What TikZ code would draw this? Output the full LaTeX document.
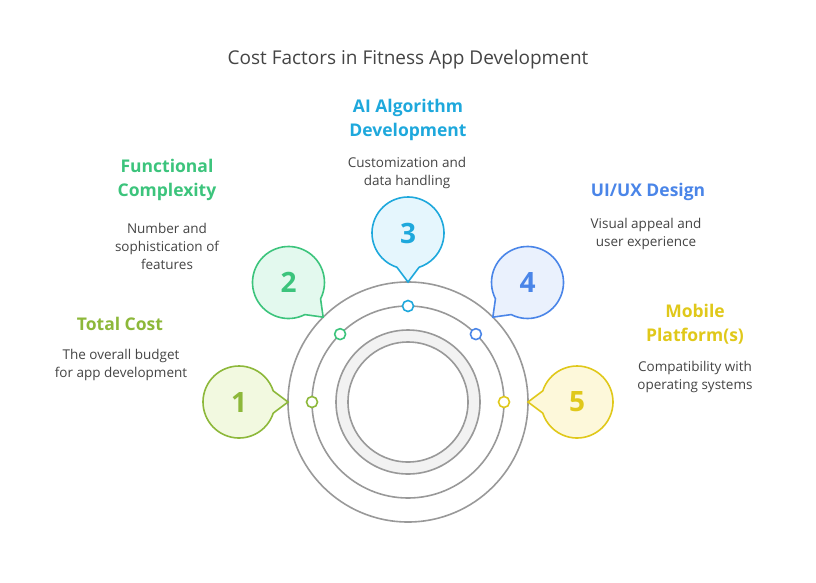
\documentclass[tikz,border=0pt]{standalone}
\usepackage{fontspec}
\setmainfont{Open Sans}
\usetikzlibrary{calc}
\definecolor{cA}{HTML}{8DB83A}\definecolor{fA}{HTML}{F2F9E0}
\definecolor{cB}{HTML}{3CC47C}\definecolor{fB}{HTML}{E3F9EE}
\definecolor{cC}{HTML}{1EA8DC}\definecolor{fC}{HTML}{E5F6FD}
\definecolor{cD}{HTML}{4A85E8}\definecolor{fD}{HTML}{EAF1FD}
\definecolor{cE}{HTML}{E0C81A}\definecolor{fE}{HTML}{FDF8DA}
\definecolor{ring}{HTML}{999999}
\definecolor{txt}{HTML}{444444}
\begin{document}
\begin{tikzpicture}[x=1pt,y=-1pt,
  head/.style={font=\bfseries\fontsize{17.5}{24}\selectfont,align=center},
  desc/.style={font=\fontsize{13.5}{18}\selectfont,text=txt,align=center}]
  \useasboundingbox (0,0) rectangle (816,582);
  \coordinate (C) at (408,402);
  % rings
  \draw[ring,line width=1.6] (C) circle[radius=120];
  \draw[ring,line width=1.6] (C) circle[radius=96];
  \fill[gray!10,even odd rule] (C) circle[radius=72] (C) circle[radius=60];
  \draw[ring,line width=1.6] (C) circle[radius=72];
  \draw[ring,line width=1.6] (C) circle[radius=60];
  % bubbles
  \foreach \ang/\n/\c in {180/1/A,135/2/B,90/3/C,45/4/D,0/5/E}{
    \coordinate (b\n) at ($(C)+(-\ang:169)$);
    \coordinate (t\n) at ($(C)+(-\ang:120)$);
    \pgfmathsetmacro{\d}{180-\ang}
    \draw[c\c,fill=f\c,line width=1.6] (b\n) ++(\d+18:36)
      arc[start angle=\d+18,end angle=\d+342,radius=36] -- (t\n) -- cycle;
    \node[text=c\c,font=\bfseries\fontsize{28}{30}\selectfont] (n\n) at (b\n) {\n};
    \draw[c\c,fill=white,line width=1.6] ($(C)+(-\ang:96)$) circle[radius=5.5];
  }
  % texts
  \node[text=txt,font=\fontsize{19}{22}\selectfont] (title) at (408,60) {Cost Factors in Fitness App Development};
  \node[head,text=cA] (h1) at (120,324) {Total Cost};
  \node[desc] (d1) at (121,365) {The overall budget\\for app development};
  \node[head,text=cB] (h2) at (167,180) {Functional\\Complexity};
  \node[desc] (d2) at (167,246) {Number and\\sophistication of\\features};
  \node[head,text=cC] (h3) at (408,120) {AI Algorithm\\Development};
  \node[desc] (d3) at (407,173) {Customization and\\data handling};
  \node[head,text=cD] (h4) at (648,192) {UI/UX Design};
  \node[desc] (d4) at (646,234) {Visual appeal and\\user experience};
  \node[head,text=cE] (h5) at (695,324) {Mobile\\Platform(s)};
  \node[desc] (d5) at (695,377) {Compatibility with\\operating systems};
\end{tikzpicture}
\end{document}
